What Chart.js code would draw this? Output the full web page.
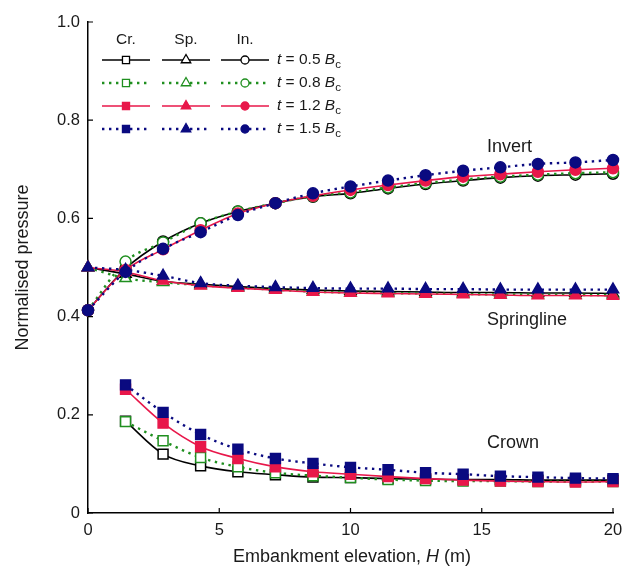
<!DOCTYPE html>
<html lang="en">
<head>
<meta charset="UTF-8">
<title>Normalised pressure vs embankment elevation</title>
<script src="https://cdn.jsdelivr.net/npm/chart.js"></script>
<style>
  html, body { margin: 0; padding: 0; background: #fff; }
</style>
</head>
<body>
<canvas id="chart" width="635" height="572"></canvas>
<script>
// Embankment elevation H (m) at each calculation step
const elevations = [0, 1.43, 2.86, 4.29, 5.71, 7.14, 8.57, 10, 11.43, 12.86, 14.29, 15.71, 17.14, 18.57, 20];

// Crown (no value at H = 0)
const crownT05 = [null, 0.187, 0.120, 0.096, 0.084, 0.078, 0.073, 0.072, 0.070, 0.069, 0.068, 0.068, 0.067, 0.067, 0.067];
const crownT08 = [null, 0.186, 0.147, 0.113, 0.094, 0.082, 0.076, 0.072, 0.068, 0.066, 0.065, 0.065, 0.064, 0.064, 0.064];
const crownT12 = [null, 0.252, 0.183, 0.135, 0.111, 0.094, 0.084, 0.079, 0.074, 0.070, 0.067, 0.065, 0.064, 0.063, 0.064];
const crownT15 = [null, 0.261, 0.205, 0.160, 0.130, 0.111, 0.101, 0.093, 0.088, 0.082, 0.079, 0.075, 0.073, 0.071, 0.070];

// Springline
const springT05 = [0.5, 0.487, 0.472, 0.466, 0.461, 0.457, 0.454, 0.452, 0.451, 0.450, 0.449, 0.449, 0.448, 0.448, 0.447];
const springT08 = [0.5, 0.478, 0.470, 0.464, 0.459, 0.455, 0.451, 0.449, 0.448, 0.447, 0.446, 0.445, 0.445, 0.444, 0.444];
const springT12 = [0.5, 0.491, 0.473, 0.463, 0.458, 0.454, 0.450, 0.448, 0.447, 0.446, 0.445, 0.444, 0.443, 0.443, 0.442];
const springT15 = [0.5, 0.495, 0.483, 0.468, 0.463, 0.460, 0.458, 0.457, 0.457, 0.456, 0.456, 0.455, 0.455, 0.455, 0.455];

// Invert
const invertT05 = [0.413, 0.498, 0.553, 0.590, 0.614, 0.631, 0.644, 0.651, 0.661, 0.670, 0.677, 0.683, 0.687, 0.689, 0.691];
const invertT08 = [0.413, 0.512, 0.551, 0.590, 0.614, 0.631, 0.645, 0.653, 0.663, 0.672, 0.679, 0.685, 0.689, 0.692, 0.694];
const invertT12 = [0.413, 0.495, 0.537, 0.576, 0.610, 0.631, 0.646, 0.658, 0.668, 0.677, 0.685, 0.690, 0.695, 0.699, 0.702];
const invertT15 = [0.413, 0.491, 0.538, 0.572, 0.607, 0.631, 0.651, 0.665, 0.677, 0.688, 0.697, 0.704, 0.711, 0.714, 0.719];

const thicknessLabels = ['0.5', '0.8', '1.2', '1.5'];
const xTicks = [0, 5, 10, 15, 20];
const yTicks = [0, 0.2, 0.4, 0.6, 0.8, 1.0];

const FONT = '"Liberation Sans", Arial, Helvetica, sans-serif';
const TEXT = '#1a1a1a';

// line style per thickness t
const styles = [
    { color: '#000000', dotted: false, filled: false, order: 3 },
    { color: '#1f8f1f', dotted: true,  filled: false, order: 2 },
    { color: '#e8174a', dotted: false, filled: true,  order: 1 },
    { color: '#0a0a80', dotted: true,  filled: true,  order: 0 }
];
const locations = [
    { name: 'Cr.', marker: 'rect',     radius: 7,   values: [crownT05, crownT08, crownT12, crownT15] },
    { name: 'Sp.', marker: 'triangle', radius: 6.5, values: [springT05, springT08, springT12, springT15] },
    { name: 'In.', marker: 'circle',   radius: 5.5, values: [invertT05, invertT08, invertT12, invertT15] }
];

function toPoints(vals) {
    const pts = [];
    vals.forEach((v, i) => { if (v !== null) pts.push({ x: elevations[i], y: v }); });
    return pts;
}

function lineStyle(s) {
    return s.dotted
        ? { borderWidth: 2.4, borderDash: [2.4, 4.6] }
        : { borderWidth: 1.6, borderDash: [] };
}

const datasets = [];
locations.forEach(loc => {
    styles.forEach((s, k) => {
        const ls = lineStyle(s);
        datasets.push({
            label: loc.name + ' t=' + thicknessLabels[k],
            data: toPoints(loc.values[k]),
            borderColor: s.color,
            borderWidth: ls.borderWidth,
            borderDash: ls.borderDash,
            cubicInterpolationMode: 'monotone',
            pointStyle: loc.marker,
            pointRadius: loc.radius,
            pointHoverRadius: loc.radius,
            pointBorderWidth: 1.5,
            pointBorderColor: s.color,
            pointBackgroundColor: s.filled ? s.color : '#ffffff',
            order: s.order,
            clip: false
        });
    });
});

// tick marks pointing into the plot
const inwardTicks = {
    id: 'inwardTicks',
    afterDraw(chart) {
        const { ctx, chartArea, scales } = chart;
        ctx.save();
        ctx.strokeStyle = '#000';
        ctx.lineWidth = 1.2;
        ctx.beginPath();
        xTicks.forEach(v => {
            const px = scales.x.getPixelForValue(v);
            ctx.moveTo(px, chartArea.bottom);
            ctx.lineTo(px, chartArea.bottom - 5);
        });
        yTicks.forEach(v => {
            const py = scales.y.getPixelForValue(v);
            ctx.moveTo(chartArea.left, py);
            ctx.lineTo(chartArea.left + 5, py);
        });
        ctx.stroke();
        ctx.restore();
    }
};

// three-column legend and curve names
const legendAndNotes = {
    id: 'legendAndNotes',
    afterDraw(chart) {
        const { ctx, scales } = chart;
        ctx.save();
        ctx.fillStyle = TEXT;
        ctx.textBaseline = 'middle';
        ctx.textAlign = 'center';
        ctx.font = '15.5px ' + FONT;

        const colX = [126, 186, 245];
        const segHalf = 24;
        locations.forEach((loc, c) => ctx.fillText(loc.name, colX[c], 40));

        const rowY = [60, 83, 106, 129];
        styles.forEach((s, r) => {
            const y = rowY[r];
            const ls = lineStyle(s);
            locations.forEach((loc, c) => {
                ctx.strokeStyle = s.color;
                ctx.lineWidth = ls.borderWidth;
                ctx.setLineDash(ls.borderDash);
                ctx.beginPath();
                ctx.moveTo(colX[c] - segHalf, y);
                ctx.lineTo(colX[c] + segHalf, y);
                ctx.stroke();
                ctx.setLineDash([]);
                ctx.fillStyle = s.filled ? s.color : '#ffffff';
                ctx.strokeStyle = s.color;
                ctx.lineWidth = 1.3;
                Chart.helpers.drawPoint(ctx, {
                    pointStyle: loc.marker,
                    radius: loc.marker === 'rect' ? 5 : (loc.marker === 'triangle' ? 5.5 : 4),
                    rotation: 0,
                    borderWidth: 1.3
                }, colX[c], y);
            });
            // t = 0.5 Bc
            let x = 277;
            ctx.fillStyle = TEXT;
            ctx.textAlign = 'left';
            ctx.font = 'italic 15.5px ' + FONT;
            ctx.fillText('t', x, y);
            x += ctx.measureText('t').width;
            ctx.font = '15.5px ' + FONT;
            const mid = ' = ' + thicknessLabels[r] + ' ';
            ctx.fillText(mid, x, y);
            x += ctx.measureText(mid).width;
            ctx.font = 'italic 15.5px ' + FONT;
            ctx.fillText('B', x, y);
            x += ctx.measureText('B').width;
            ctx.font = '11.5px ' + FONT;
            ctx.fillText('c', x, y + 5);
            ctx.textAlign = 'center';
            ctx.font = '15.5px ' + FONT;
        });

        // curve names
        ctx.textAlign = 'left';
        ctx.fillStyle = TEXT;
        ctx.font = '18px ' + FONT;
        ctx.fillText('Invert', scales.x.getPixelForValue(15.2), scales.y.getPixelForValue(0.745));
        ctx.fillText('Springline', scales.x.getPixelForValue(15.2), scales.y.getPixelForValue(0.393));
        ctx.fillText('Crown', scales.x.getPixelForValue(15.2), scales.y.getPixelForValue(0.143));
        ctx.restore();
    }
};

// x-axis title with italic H
const xTitle = {
    id: 'xTitle',
    afterDraw(chart) {
        const { ctx } = chart;
        const parts = [['Embankment elevation, ', ''], ['H', 'italic '], [' (m)', '']];
        ctx.save();
        ctx.fillStyle = TEXT;
        ctx.textBaseline = 'middle';
        ctx.textAlign = 'left';
        let total = 0;
        parts.forEach(p => { ctx.font = p[1] + '18px ' + FONT; total += ctx.measureText(p[0]).width; });
        let x = 352 - total / 2;
        parts.forEach(p => {
            ctx.font = p[1] + '18px ' + FONT;
            ctx.fillText(p[0], x, 557);
            x += ctx.measureText(p[0]).width;
        });
        ctx.restore();
    }
};

new Chart(document.getElementById('chart').getContext('2d'), {
    type: 'line',
    data: { datasets: datasets },
    options: {
        responsive: false,
        animation: false,
        events: [],
        layout: { padding: { left: 0, right: 22, top: 22, bottom: 0 } },
        plugins: {
            legend: { display: false },
            tooltip: { enabled: false }
        },
        scales: {
            x: {
                type: 'linear',
                min: 0,
                max: 20,
                afterFit: s => { s.height = 59; },
                afterBuildTicks: s => { s.ticks = xTicks.map(v => ({ value: v })); },
                grid: { display: false, drawTicks: false },
                border: { display: true, color: '#000', width: 1.5 },
                ticks: { color: TEXT, padding: 8, font: { family: FONT, size: 16.5 } },
                title: { display: false }
            },
            y: {
                type: 'linear',
                min: 0,
                max: 1,
                afterFit: s => { s.width = 88; },
                afterBuildTicks: s => { s.ticks = yTicks.map(v => ({ value: v })); },
                grid: { display: false, drawTicks: false },
                border: { display: true, color: '#000', width: 1.5 },
                ticks: {
                    color: TEXT,
                    padding: 8,
                    font: { family: FONT, size: 16.5 },
                    callback: v => (v === 0 ? '0' : v.toFixed(1))
                },
                title: {
                    display: true,
                    text: 'Normalised pressure',
                    color: TEXT,
                    font: { family: FONT, size: 18 },
                    padding: { top: 12, bottom: 0 }
                }
            }
        }
    },
    plugins: [inwardTicks, legendAndNotes, xTitle]
});
</script>
</body>
</html>
